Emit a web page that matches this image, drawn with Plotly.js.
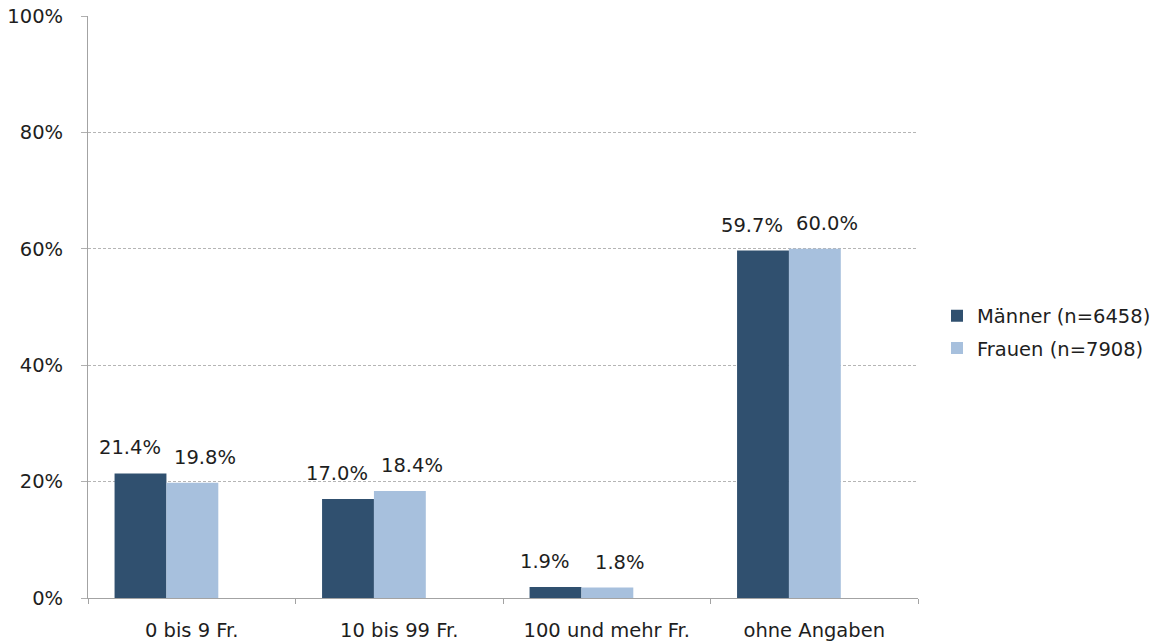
<!DOCTYPE html>
<html>
<head>
<meta charset="utf-8">
<script src="https://cdn.plot.ly/plotly-3.0.1.min.js"></script>
<style>
  html, body { margin: 0; padding: 0; background: #ffffff; }
  #chart { width: 1157px; height: 642px; }
</style>
</head>
<body>
<div id="chart"></div>
<script>
// Spendenbeträge nach Geschlecht (Anteile in %)
const categories = ['0 bis 9 Fr.', '10 bis 99 Fr.', '100 und mehr Fr.', 'ohne Angaben'];
const maennerValues = [21.4, 17.0, 1.9, 59.7];
const frauenValues = [19.8, 18.4, 1.8, 60.0];
const seriesNames = ['Männer (n=6458)', 'Frauen (n=7908)'];
const yTickValues = [0, 20, 40, 60, 80, 100];

const FONT = 'DejaVu Sans, Liberation Sans, Arial, sans-serif';
const TEXT_COLOR = '#1e1e1e';
const DARK = '#30506f';
const LIGHT = '#a7c0dd';

const fmt = v => v.toFixed(1) + '%';

const traces = [
  {
    type: 'bar', name: seriesNames[0], x: categories, y: maennerValues,
    offset: -0.372, width: 0.25, marker: { color: DARK },
    legendgroup: 'm', hoverinfo: 'skip'
  },
  {
    type: 'bar', name: seriesNames[1], x: categories, y: frauenValues,
    offset: -0.122, width: 0.25, marker: { color: LIGHT },
    legendgroup: 'f', hoverinfo: 'skip'
  }
];

// value labels above each bar
const labelFont = { family: FONT, size: 19.5, color: TEXT_COLOR };
const annotations = [];
categories.forEach((c, i) => {
  annotations.push({
    x: c, y: maennerValues[i], xref: 'x', yref: 'y', text: fmt(maennerValues[i]),
    showarrow: false, xanchor: 'center', yanchor: 'bottom', xshift: -62, yshift: 12,
    font: labelFont
  });
  annotations.push({
    x: c, y: frauenValues[i], xref: 'x', yref: 'y', text: fmt(frauenValues[i]),
    showarrow: false, xanchor: 'center', yanchor: 'bottom', xshift: 13, yshift: 12,
    font: labelFont
  });
});

const layout = {
  width: 1157, height: 642,
  margin: { l: 88, r: 239, t: 16, b: 44, pad: 0 },
  paper_bgcolor: '#ffffff', plot_bgcolor: '#ffffff',
  barmode: 'overlay',
  font: { family: FONT, size: 19.5, color: TEXT_COLOR },
  showlegend: true,
  legend: {
    xref: 'container', yref: 'container',
    x: 937 / 1157, y: 1 - 332 / 642, xanchor: 'left', yanchor: 'middle',
    font: { family: FONT, size: 19.5, color: TEXT_COLOR },
    tracegroupgap: 4, bgcolor: 'rgba(0,0,0,0)'
  },
  xaxis: {
    type: 'category', range: [-0.5, 3.5], fixedrange: true,
    showline: true, linecolor: '#a3a3a3', linewidth: 1,
    ticks: 'outside', tickson: 'boundaries', ticklen: 5, tickcolor: '#a3a3a3',
    showgrid: false, zeroline: false,
    tickfont: { family: FONT, size: 19.5, color: TEXT_COLOR },
    ticklabelstandoff: 15
  },
  yaxis: {
    range: [0, 100], fixedrange: true,
    tickvals: yTickValues, ticktext: yTickValues.map(v => v + '%'),
    showline: true, linecolor: '#a3a3a3', linewidth: 1,
    ticks: 'outside', ticklen: 6, tickcolor: '#b0b0b0',
    showgrid: true, gridcolor: '#b5b5b5', gridwidth: 1, griddash: '3px,2px',
    zeroline: false,
    tickfont: { family: FONT, size: 19.5, color: TEXT_COLOR },
    ticklabelstandoff: 14
  },
  annotations: annotations
};

Plotly.newPlot('chart', traces, layout, { staticPlot: true, displayModeBar: false });
</script>
</body>
</html>
